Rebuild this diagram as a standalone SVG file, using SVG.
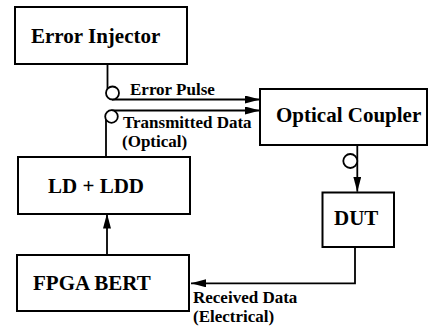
<svg xmlns="http://www.w3.org/2000/svg" width="428" height="328" viewBox="0 0 428 328">
  <style>
    .box { fill: #fff; stroke: #000; stroke-width: 2; }
    .lbl { font-family: "Liberation Serif", "Times New Roman", serif; font-weight: bold; font-size: 21px; fill: #000; }
    .sm { font-family: "Liberation Serif", "Times New Roman", serif; font-weight: bold; font-size: 17px; fill: #000; }
    .wire { fill: none; stroke: #000; stroke-width: 1.8; }
    .ring { fill: #fff; stroke: #000; stroke-width: 1.8; }
  </style>
  <defs>
    <marker id="arrow" viewBox="0 0 15 8" refX="15" refY="4" markerWidth="15" markerHeight="8" markerUnits="userSpaceOnUse" orient="auto">
      <path d="M0,0 L15,4 L0,8 Z" fill="#000"/>
    </marker>
  </defs>

  <rect width="428" height="328" fill="#fff"/>

  <g id="connectors">
    <!-- error pulse: injector down, fibre loop, across to coupler -->
    <path class="wire" d="M107.5,64 V93 M112,99.5 H260" marker-end="url(#arrow)"/>
    <circle class="ring" cx="112.5" cy="93" r="6.5"/>
    <!-- transmitted data: LD up, fibre loop, across to coupler -->
    <path class="wire" d="M106,157 V116.5 M111.5,110.5 H260" marker-end="url(#arrow)"/>
    <circle class="ring" cx="111.5" cy="116.5" r="6.3"/>
    <!-- coupler to DUT -->
    <path class="wire" d="M357.3,145 V191.7" marker-end="url(#arrow)"/>
    <circle class="ring" cx="350.3" cy="161" r="7"/>
    <!-- BERT to LD -->
    <path class="wire" d="M107,255 V213.5" marker-end="url(#arrow)"/>
    <!-- DUT back to BERT -->
    <path class="wire" d="M355,247 V283.3 H191" marker-end="url(#arrow)"/>
  </g>

  <g id="error-injector">
    <rect class="box" x="15" y="7" width="172" height="57"/>
    <text class="lbl" x="31" y="43">Error Injector</text>
  </g>

  <g id="optical-coupler">
    <rect class="box" x="260" y="89" width="167" height="56"/>
    <text class="lbl" x="276" y="122">Optical Coupler</text>
  </g>

  <g id="ld-ldd">
    <rect class="box" x="18" y="157" width="172" height="57"/>
    <text class="lbl" x="48" y="193">LD + LDD</text>
  </g>

  <g id="dut">
    <rect class="box" x="322.5" y="192.5" width="71.5" height="54.5"/>
    <text class="lbl" x="334" y="225">DUT</text>
  </g>

  <g id="fpga-bert">
    <rect class="box" x="17" y="255" width="172" height="56"/>
    <text class="lbl" x="33" y="290">FPGA BERT</text>
  </g>

  <g id="labels">
    <text class="sm" x="130" y="95">Error Pulse</text>
    <text class="sm" x="123" y="128">Transmitted Data</text>
    <text class="sm" x="122" y="146.5">(Optical)</text>
    <text class="sm" x="193" y="302.5">Received Data</text>
    <text class="sm" x="193" y="321.5">(Electrical)</text>
  </g>
</svg>
